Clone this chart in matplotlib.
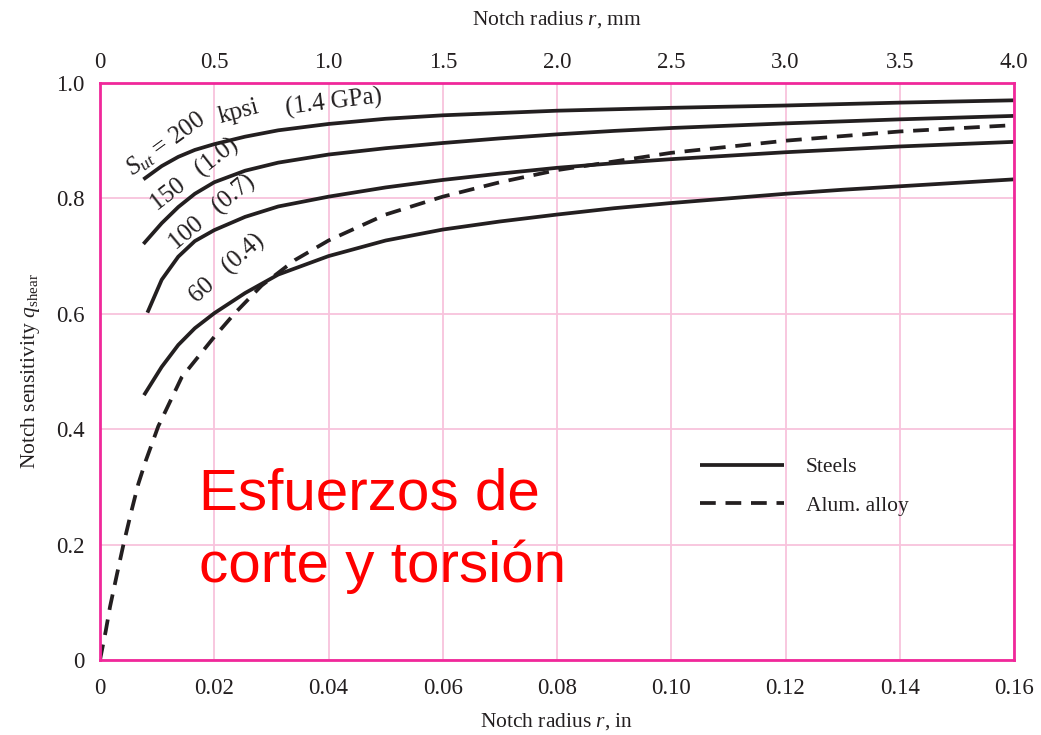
import matplotlib
matplotlib.use("Agg")
import matplotlib.pyplot as plt

plt.rcParams["mathtext.fontset"] = "custom"
plt.rcParams["mathtext.rm"] = "Liberation Serif"
plt.rcParams["mathtext.it"] = "Liberation Serif:italic"

# ---- data (r in inches, q_shear) ----
r_200 = [0.0076, 0.0108, 0.0137, 0.0166, 0.020, 0.0254, 0.0312, 0.040, 0.050, 0.060, 0.070, 0.080, 0.100, 0.120, 0.140, 0.160]
q_200 = [0.833, 0.856, 0.872, 0.884, 0.894, 0.907, 0.918, 0.929, 0.938, 0.944, 0.948, 0.952, 0.957, 0.961, 0.966, 0.970]

r_150 = [0.0076, 0.0108, 0.0137, 0.0166, 0.020, 0.0254, 0.0312, 0.040, 0.050, 0.060, 0.070, 0.080, 0.090, 0.100, 0.120, 0.140, 0.160]
q_150 = [0.721, 0.757, 0.785, 0.808, 0.828, 0.848, 0.862, 0.876, 0.887, 0.896, 0.904, 0.911, 0.917, 0.922, 0.930, 0.937, 0.943]

r_100 = [0.0083, 0.0108, 0.0137, 0.0166, 0.020, 0.0254, 0.0312, 0.040, 0.050, 0.060, 0.070, 0.080, 0.090, 0.100, 0.120, 0.140, 0.160]
q_100 = [0.602, 0.659, 0.699, 0.726, 0.745, 0.768, 0.786, 0.803, 0.819, 0.832, 0.843, 0.853, 0.861, 0.868, 0.880, 0.890, 0.898]

r_60 = [0.0077, 0.0108, 0.0137, 0.0166, 0.020, 0.0254, 0.0312, 0.040, 0.050, 0.060, 0.070, 0.080, 0.090, 0.100, 0.110, 0.120, 0.130, 0.140, 0.150, 0.160]
q_60 = [0.459, 0.508, 0.546, 0.575, 0.601, 0.636, 0.668, 0.700, 0.727, 0.746, 0.760, 0.772, 0.783, 0.792, 0.800, 0.808, 0.815, 0.821, 0.827, 0.833]

r_al = [0.0, 0.001, 0.00175, 0.003, 0.0041, 0.0055, 0.0067, 0.008, 0.0102, 0.0143, 0.020, 0.0236, 0.0283, 0.0341, 0.040, 0.050, 0.060, 0.070, 0.080, 0.100, 0.120, 0.140, 0.160]
q_al = [0.0, 0.050, 0.092, 0.150, 0.200, 0.258, 0.305, 0.345, 0.405, 0.490, 0.560, 0.601, 0.649, 0.693, 0.727, 0.772, 0.803, 0.828, 0.849, 0.879, 0.900, 0.916, 0.927]

x_ticks = [0, 0.02, 0.04, 0.06, 0.08, 0.10, 0.12, 0.14, 0.16]
x_tick_labels = ["0", "0.02", "0.04", "0.06", "0.08", "0.10", "0.12", "0.14", "0.16"]
mm_ticks = [0, 0.5, 1.0, 1.5, 2.0, 2.5, 3.0, 3.5, 4.0]
mm_tick_labels = ["0", "0.5", "1.0", "1.5", "2.0", "2.5", "3.0", "3.5", "4.0"]
y_ticks = [0, 0.2, 0.4, 0.6, 0.8, 1.0]
y_tick_labels = ["0", "0.2", "0.4", "0.6", "0.8", "1.0"]

SERIF = ["Liberation Serif", "DejaVu Serif"]
FRAME = "#f0289a"
GRID = "#f8c3dc"
INK = "#231f20"

fig = plt.figure(figsize=(10.41, 7.35), dpi=100)
ax = fig.add_axes([100/1041, 1-660/735, (1014-100)/1041, (660-83)/735])
ax.set_xlim(0, 0.16)
ax.set_ylim(0, 1.0)

ax.set_xticks(x_ticks)
ax.set_xticklabels(x_tick_labels, family=SERIF, fontsize=16.5, color=INK)
ax.set_yticks(y_ticks)
ax.set_yticklabels(y_tick_labels, family=SERIF, fontsize=16.5, color=INK)
ax.tick_params(axis="x", length=0, pad=13)
ax.tick_params(axis="y", length=0, pad=11)
ax.grid(True, color=GRID, linewidth=1.3)
ax.set_axisbelow(True)
for s in ax.spines.values():
    s.set_color(FRAME)
    s.set_linewidth(2)

lw = 2.7
ax.plot(r_200, q_200, color=INK, lw=lw, solid_capstyle="butt", solid_joinstyle="round")
ax.plot(r_150, q_150, color=INK, lw=lw, solid_capstyle="butt", solid_joinstyle="round")
ax.plot(r_100, q_100, color=INK, lw=lw, solid_capstyle="butt", solid_joinstyle="round")
ax.plot(r_60, q_60, color=INK, lw=lw, solid_capstyle="butt", solid_joinstyle="round", label="Steels")
ax.plot(r_al, q_al, color=INK, lw=lw, dashes=(4.2, 2.6), label="Alum. alloy")

ax.set_xlabel("Notch radius $r$, in", family=SERIF, fontsize=15.5, color=INK, labelpad=9)
ax.set_ylabel("Notch sensitivity $q_{\\mathrm{shear}}$", family=SERIF, fontsize=15.5, color=INK, labelpad=10)

# top axis in mm
ax2 = ax.twiny()
ax2.set_xlim(0, 4.0)
ax2.set_xticks(mm_ticks)
ax2.set_xticklabels(mm_tick_labels, family=SERIF, fontsize=16.5, color=INK)
ax2.tick_params(length=0, pad=7)
for s in ax2.spines.values():
    s.set_visible(False)
ax2.set_xlabel("Notch radius $r$, mm", family=SERIF, fontsize=15.5, color=INK, labelpad=20)

# curve labels (pixel positions converted to axes fraction)
def P(px, py):
    return ((px - 100) / 914, (660 - py) / 577)

tkw = dict(transform=ax.transAxes, family=SERIF, fontsize=18, color=INK,
           ha="center", va="center", rotation_mode="anchor")
ax.text(*P(166, 144), "$S_{ut}$ = 200", rotation=36, **tkw)
ax.text(*P(239, 112), "kpsi", rotation=15, **tkw)
ax.text(*P(334, 103), "(1.4 GPa)", rotation=7, **tkw)
ax.text(*P(195, 175), "150   (1.0)", rotation=38, **tkw)
ax.text(*P(213, 213), "100   (0.7)", rotation=40, **tkw)
ax.text(*P(227, 269), "60   (0.4)", rotation=42, **tkw)

# legend
ax.legend(loc="upper left", bbox_to_anchor=P(681, 438), frameon=False,
          prop={"family": SERIF, "size": 15.5}, handlelength=3.9,
          handletextpad=1.0, labelspacing=0.85, labelcolor=INK)

# red overlay text
rkw = dict(transform=ax.transAxes, family=["Liberation Sans", "DejaVu Sans"],
           fontsize=42, color="#ff0000", ha="left", va="baseline")
ax.text(*P(199, 510), "Esfuerzos de", **rkw)
ax.text(*P(199, 582), "corte y torsión", **rkw)

fig.savefig("out.png", dpi=100, facecolor="white")
